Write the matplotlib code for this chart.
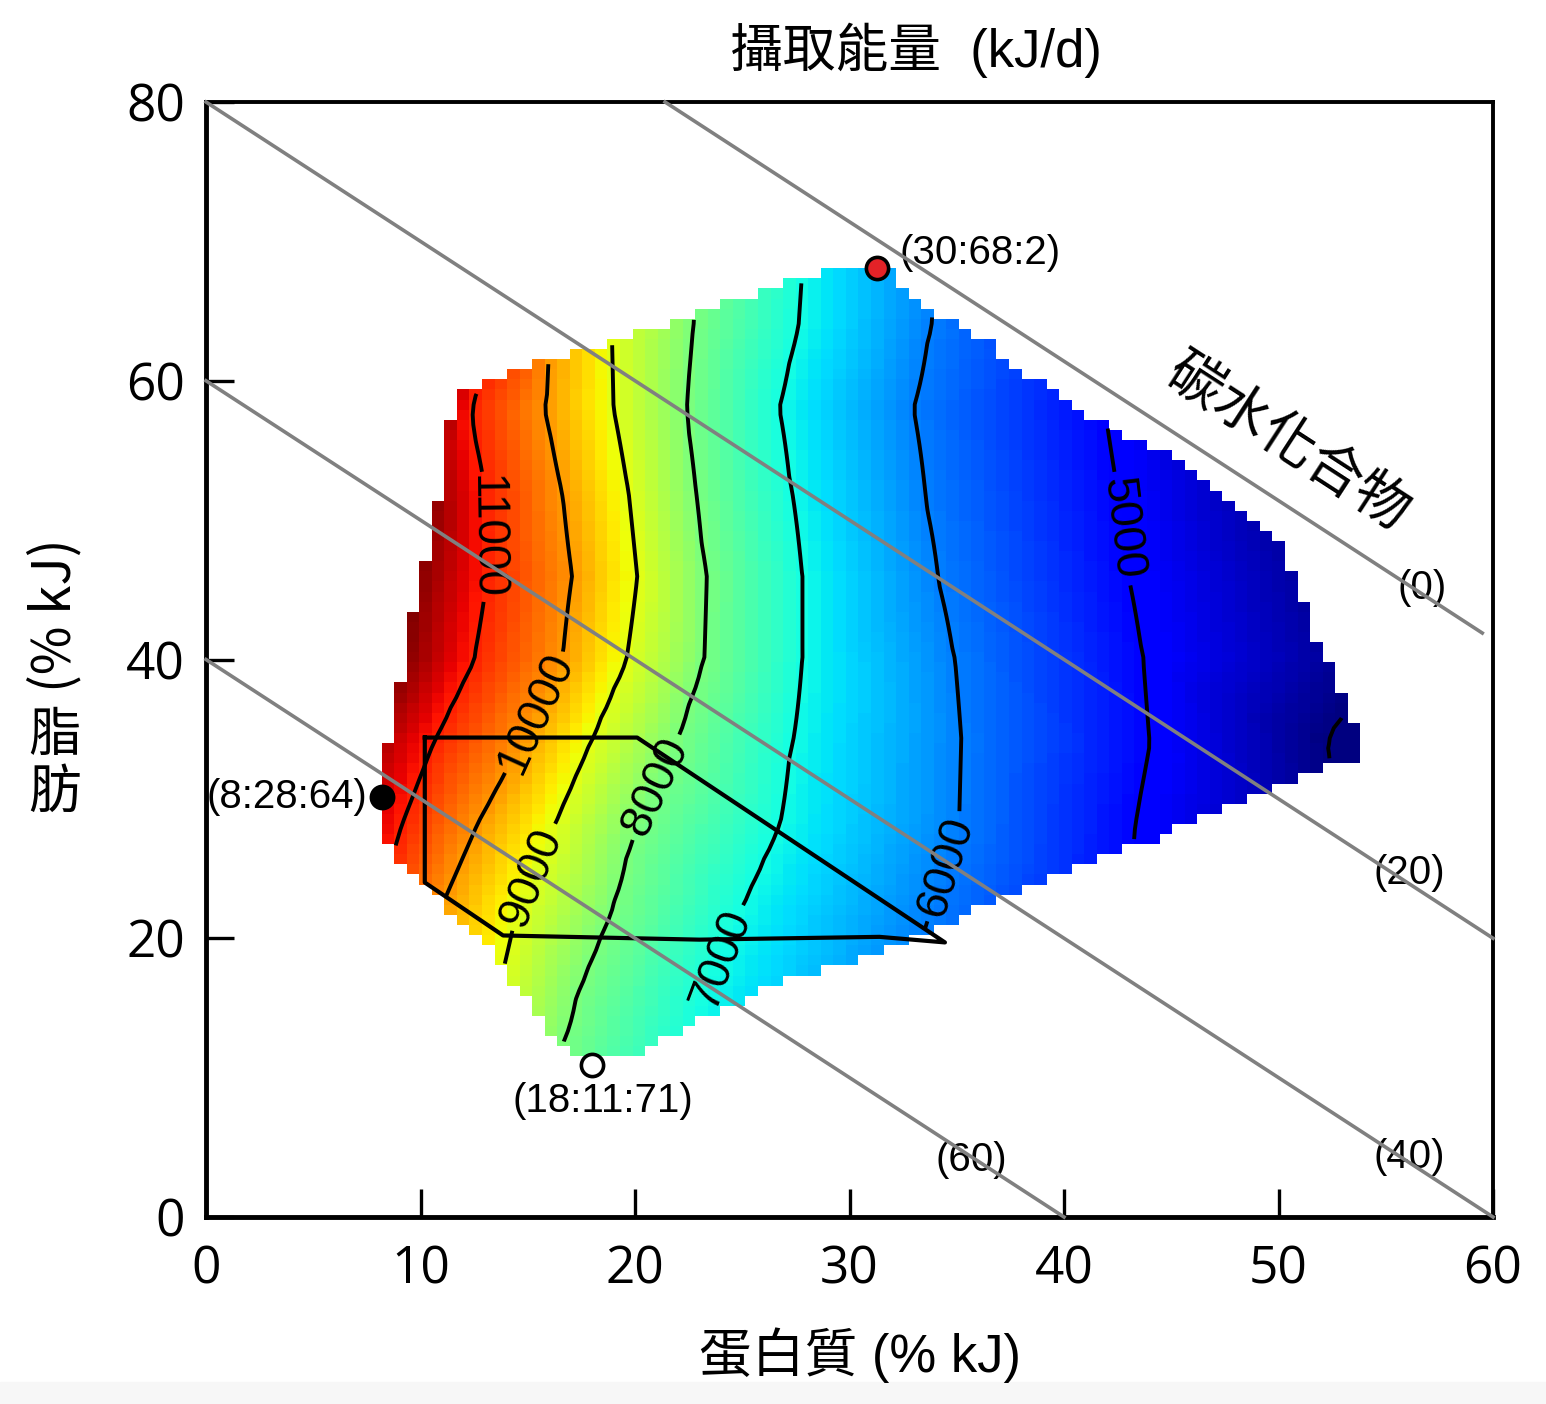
import numpy as np
import matplotlib
matplotlib.use('Agg')
import matplotlib.pyplot as plt
import matplotlib.tri as mtri
from matplotlib.path import Path
from matplotlib.patches import Rectangle

plt.rcParams['font.family'] = ['Liberation Sans', 'Noto Sans CJK TC']

energy_levels = [12000, 11000, 10000, 9000, 8000, 7000, 6000, 5000, 4000, 3000]
fat_rows = [70, 64, 58, 52, 46, 40, 34, 28, 22, 16, 10]
protein_at_level = [
    [13.0, 15.0, 16.5, 19.0, 22.9, 27.9, 34.0, 41.5, 49.5, 58.0],
    [12.0, 14.0, 16.0, 18.9, 22.7, 27.6, 33.8, 41.5, 50.0, 58.0],
    [11.0, 12.3, 15.8, 19.0, 22.4, 26.7, 33.0, 41.9, 50.5, 58.0],
    [10.3, 13.0, 16.6, 19.7, 22.8, 27.3, 33.5, 42.5, 52.0, 58.0],
    [9.8, 13.1, 17.1, 20.1, 23.3, 27.8, 34.1, 43.0, 53.5, 58.0],
    [9.2, 12.5, 16.6, 19.6, 23.2, 27.8, 34.9, 43.7, 54.5, 58.0],
    [7.0, 10.6, 14.7, 17.9, 21.9, 27.3, 35.2, 44.0, 52.3, 57.0],
    [6.0, 9.1, 12.6, 16.2, 20.0, 26.7, 35.1, 43.3, 52.8, 57.0],
    [5.0, 8.0, 10.9, 14.5, 18.9, 24.9, 33.8, 43.0, 52.0, 57.0],
    [4.5, 7.5, 10.6, 13.6, 17.3, 23.3, 32.5, 42.0, 51.0, 57.0],
    [4.0, 7.0, 10.2, 13.2, 16.2, 22.2, 31.5, 41.0, 50.0, 57.0],
]
contour_levels = [4000, 5000, 6000, 7000, 8000, 9000, 10000, 11000]

# outline of the region that has data (protein %, fat %)
domain_protein = [11.75, 12.3, 14.2, 16.5, 18.4, 21.2, 24.0, 25.8, 27.7, 29.6, 31.7,
                  32.4, 33.9, 35.1, 36.3, 37.6, 39.3, 40.5, 41.7, 43.2, 45.2, 46.3, 47.5,
                  48.7, 49.8, 50.6, 51.2, 51.7, 52.7, 53.2, 53.8, 53.8,
                  52.1, 51.0, 49.7, 48.6, 46.3, 44.0, 42.8, 40.5, 38.0, 35.8, 33.4, 30.1,
                  26.5, 24.1, 21.9, 19.5, 17.9,
                  16.5, 15.3, 14.3, 13.6, 12.9, 11.7, 10.7, 9.5, 8.8, 8.25, 8.25, 8.9,
                  9.4, 10.1, 10.7, 11.1]
domain_fat = [58.97, 59.3, 60.4, 61.8, 62.6, 64.0, 65.4, 66.4, 67.2, 68.3, 68.4,
              66.7, 64.7, 64.0, 63.1, 61.0, 59.5, 58.1, 57.0, 55.7, 54.5, 52.9, 51.4,
              50.2, 48.8, 46.6, 44.3, 41.4, 38.7, 36.6, 35.1, 32.2,
              32.2, 31.5, 30.8, 29.9, 28.5, 27.0, 26.5, 24.9, 23.5, 22.0, 20.1, 18.4,
              16.8, 14.8, 13.2, 11.3, 11.3,
              12.5, 14.8, 16.8, 18.2, 19.9, 21.3, 23.2, 24.9, 25.6, 27.0, 32.2, 37.2,
              41.6, 45.9, 50.2, 55.2]

# black outline drawn over the surface
outline_protein = [10.2, 20.1, 34.45, 31.4, 23.0, 13.85, 10.2, 10.2]
outline_fat = [34.4, 34.4, 19.7, 20.1, 19.9, 20.2, 24.0, 34.4]

# carbohydrate lines: protein + fat along each line as drawn
carb_labels = ['(0)', '(20)', '(40)', '(60)']
carb_line_sum = [101.4, 80, 60, 40]
carb_line_xend = [59.5, 60, 60, 40]

# marked diets
point_protein = [31.3, 8.2, 18.0]
point_fat = [68.1, 30.1, 10.9]
point_text = ['(30:68:2)', '(8:28:64)', '(18:11:71)']
point_face = ['#e32227', 'black', 'white']

fig = plt.figure(figsize=(15.46, 14.04), dpi=100)
fig.patches.append(Rectangle((0, 0), 1, 0.016, transform=fig.transFigure,
                             color='#f7f7f7', zorder=0))
ax = fig.add_axes([0.13325, 0.13319, 0.83247, 0.79416])

# surface on a grid of cells, filled from the read isolines
px = np.array([p for row in protein_at_level for p in row])
py = np.repeat(fat_rows, len(energy_levels)).astype(float)
pz = np.tile(energy_levels, len(fat_rows)).astype(float)
interp = mtri.LinearTriInterpolator(mtri.Triangulation(px, py), pz)

xe = np.linspace(7.6, 54.4, 81)
ye = np.linspace(10.8, 68.8, 81)
xc = (xe[:-1] + xe[1:]) / 2
yc = (ye[:-1] + ye[1:]) / 2
XC, YC = np.meshgrid(xc, yc)
Z = interp(XC, YC)
inside = Path(np.column_stack([domain_protein, domain_fat])).contains_points(
    np.column_stack([XC.ravel(), YC.ravel()])).reshape(XC.shape)
Z = np.ma.masked_where(~inside | np.ma.getmaskarray(Z), Z)

ax.pcolormesh(xe, ye, Z, cmap='jet', vmin=4000, vmax=12000, shading='flat', zorder=1)
cs = ax.contour(XC, YC, Z, levels=contour_levels, colors='k', linewidths=2.8, zorder=2)
label_spots = [(13.0, 48.8), (15.6, 36.0), (15.4, 24.3), (21.3, 30.6),
               (24.3, 18.4), (34.8, 25.0), (42.2, 49.3)]
ax.clabel(cs, manual=label_spots, inline=True, inline_spacing=28, fontsize=33, fmt='%d')

# carbohydrate lines
for s, xend in zip(carb_line_sum, carb_line_xend):
    xs = np.array([max(0, s - 80), xend])
    ax.plot(xs, s - xs, color='#808080', lw=2.6, zorder=5, clip_on=False)
for lab, (tx, ty) in zip(carb_labels, [(56.7, 45.1), (56.1, 24.7), (56.1, 4.3), (35.7, 4.1)]):
    ax.text(tx, ty, lab, fontsize=29, ha='center', va='center', zorder=4)
ax.text(50.4, 55.5, '碳水化合物', fontsize=40, rotation=-33, rotation_mode='anchor',
        ha='center', va='center', zorder=4)

ax.plot(outline_protein, outline_fat, color='black', lw=3.0, zorder=3)

for x, y, fc in zip(point_protein, point_fat, point_face):
    ax.plot(x, y, 'o', ms=16, mfc=fc, mec='black', mew=2.6, zorder=6)
ax.text(32.35, 69.2, point_text[0], fontsize=29, ha='left', va='center')
ax.text(7.5, 30.1, point_text[1], fontsize=29, ha='right', va='center')
ax.text(18.5, 8.3, point_text[2], fontsize=29, ha='center', va='center')

ax.set_xlim(0, 60)
ax.set_ylim(0, 80)
ax.set_xticks(range(0, 61, 10))
ax.set_yticks(range(0, 81, 20))
ax.tick_params(direction='in', length=20, width=2.4, labelsize=37)
ax.tick_params(axis='x', pad=20)
ax.tick_params(axis='y', pad=15)
for lab in ax.get_xticklabels() + ax.get_yticklabels():
    lab.set_fontfamily('Open Sans')
for side in ['bottom', 'left']:
    ax.spines[side].set_linewidth(3.5)
for side in ['top', 'right']:
    ax.spines[side].set_linewidth(2.8)

fig.text(0.5925, 0.9644, '攝取能量  (kJ/d)', fontsize=38, ha='center', va='center')
fig.text(0.556, 0.0349, '蛋白質 (% kJ)', fontsize=38, ha='center', va='center')
fig.text(0.0356, 0.562, '(% kJ)', fontsize=38, rotation=90, ha='center', va='center',
         family=['Noto Sans CJK TC'])
fig.text(0.0356, 0.475, '脂', fontsize=38, ha='center', va='center')
fig.text(0.0356, 0.4345, '肪', fontsize=38, ha='center', va='center')

fig.savefig('out.png', dpi=100)
